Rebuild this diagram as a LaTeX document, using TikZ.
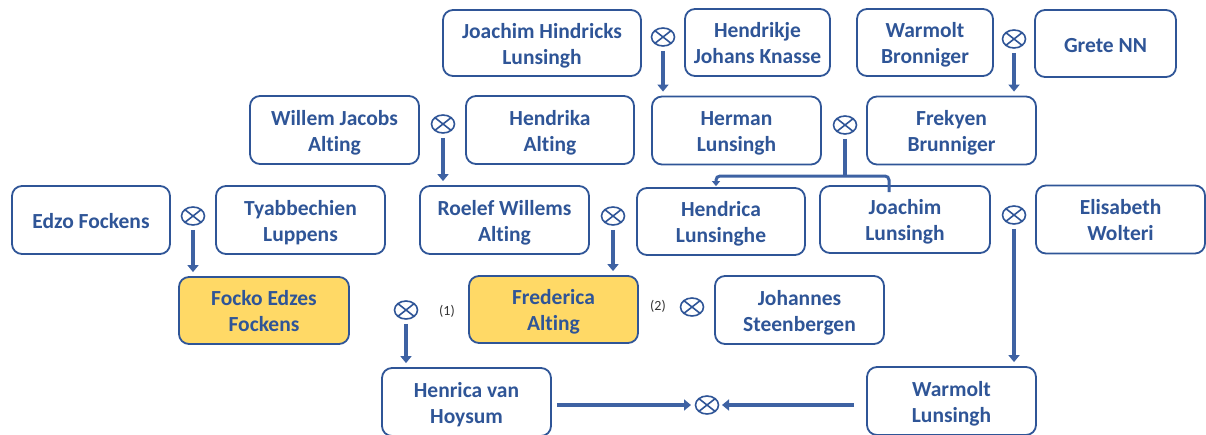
\documentclass[tikz,border=0pt]{standalone}
\usepackage{fontspec}
\setmainfont{Carlito}[Ligatures=NoCommon]
\usetikzlibrary{shapes.geometric,arrows.meta}
\definecolor{tblue}{HTML}{2F5597}
\definecolor{lblue}{HTML}{3E62A3}
\definecolor{gold}{HTML}{FFD966}
\tikzset{
  box/.style={draw=tblue, line width=1.8pt, rounded corners=10pt, fill=white,
    text=tblue, font=\fontsize{21.5}{26}\selectfont\bfseries, align=center,
    minimum width=169pt, minimum height=68pt, inner sep=2pt,
    text height=45pt, text depth=3pt},
  single/.style={text height=22pt, text depth=5pt},
  hl/.style={fill=gold},
  marr/.style={ellipse, draw=tblue, line width=1.6pt, minimum width=23pt, minimum height=18pt, inner sep=0pt,
    path picture={\draw[tblue, line width=1.6pt] (path picture bounding box.north west) -- (path picture bounding box.south east)
      (path picture bounding box.north east) -- (path picture bounding box.south west);}},
  arr/.style={draw=lblue, line width=4pt, -{Triangle[width=11pt,length=7pt]}, shorten <=4pt, shorten >=4pt},
  ln/.style={draw=lblue, line width=4pt},
  num/.style={text=black!80, font=\fontsize{14}{16}\selectfont, inner sep=0pt}
}
\begin{document}
\begin{tikzpicture}[x=1pt,y=-1pt]
\useasboundingbox (0,0) rectangle (1206,434);
% top row
\node[box, minimum width=198pt, minimum height=66pt] (jhl) at (542,43) {Joachim Hindricks\\Lunsingh};
\node[box, minimum width=145pt, minimum height=67pt] (hjk) at (757.5,42.5) {Hendrikje\\Johans Knasse};
\node[box, minimum width=136pt, minimum height=67pt] (wbr) at (925,42.5) {Warmolt\\Bronniger};
\node[box, single, minimum width=141pt, minimum height=67pt] (gnn) at (1105.5,43.5) {Grete NN};
% row 2
\node[box] (wja) at (334.5,130) {Willem Jacobs\\Alting};
\node[box, minimum width=168pt] (hal) at (550,130) {Hendrika\\Alting};
\node[box] (hlu) at (736.5,130.5) {Herman\\Lunsingh};
\node[box] (fbr) at (951.5,130.5) {Frekyen\\Brunniger};
% row 3
\node[box, single, minimum width=158pt] (efo) at (91,220) {Edzo Fockens};
\node[box] (tlu) at (300.5,220) {Tyabbechien\\Luppens};
\node[box] (rwa) at (504.5,220) {Roelef Willems\\Alting};
\node[box, minimum width=168pt, minimum height=67pt] (hlh) at (721,221.5) {Hendrica\\Lunsinghe};
\node[box, minimum width=170pt, minimum height=67pt] (jlu) at (905,219.5) {Joachim\\Lunsingh};
\node[box] (ewo) at (1120.5,219.5) {Elisabeth\\Wolteri};
% row 4
\node[box, hl, minimum width=170pt, minimum height=67pt] (fef) at (264,310.5) {Focko Edzes\\Fockens};
\node[box, hl, minimum height=67pt] (fal) at (553.5,309.5) {Frederica\\Alting};
\node[box] (jst) at (799.5,310) {Johannes\\Steenbergen};
% row 5
\node[box] (hvh) at (466.5,402) {Henrica van\\Hoysum};
\node[box] (wlu) at (951.5,401) {Warmolt\\Lunsingh};
% marriage symbols
\node[marr] (m1) at (663,37) {};
\node[marr] (m2) at (1014,39) {};
\node[marr] (m3) at (443,124) {};
\node[marr] (m4) at (845,125) {};
\node[marr] (m5) at (193,216) {};
\node[marr] (m6) at (613,216) {};
\node[marr] (m7) at (1014,215) {};
\node[marr] (m8) at (406,310) {};
\node[marr] (m9) at (692,307) {};
\node[marr] (m10) at (707,405) {};
% labels
\node[num] (n1) at (447,311) {(1)};
\node[num] (n2) at (658,306) {(2)};
% connectors
\draw[arr] (m1) -- (hlu.north -| m1);
\draw[arr] (m2) -- (fbr.north -| m2);
\draw[arr] (m3) -- (rwa.north -| m3);
\draw[arr] (m5) -- (fef.north -| m5);
\draw[arr] (m6) -- (fal.north -| m6);
\draw[arr] (m7) -- (wlu.north -| m7);
\draw[arr] (m8) -- (hvh.north -| m8);
\coordinate (br) at (845,176);
\coordinate (hlx) at (716,0);
\coordinate (jb) at (889,192);
\draw[ln, shorten <=4pt] (m4) -- (br);
\draw[draw=lblue, line width=3pt, rounded corners=4pt, -{Triangle[width=8pt,length=5pt]}, shorten >=1pt] (jb) |- (br) -| (hlh.north -| hlx);
\draw[arr, shorten <=5pt, shorten >=16pt] (hvh.east |- m10) -- (m10.center);
\draw[arr, shorten <=12pt, shorten >=15pt] (wlu.west |- m10) -- (m10.center);
\end{tikzpicture}
\end{document}
